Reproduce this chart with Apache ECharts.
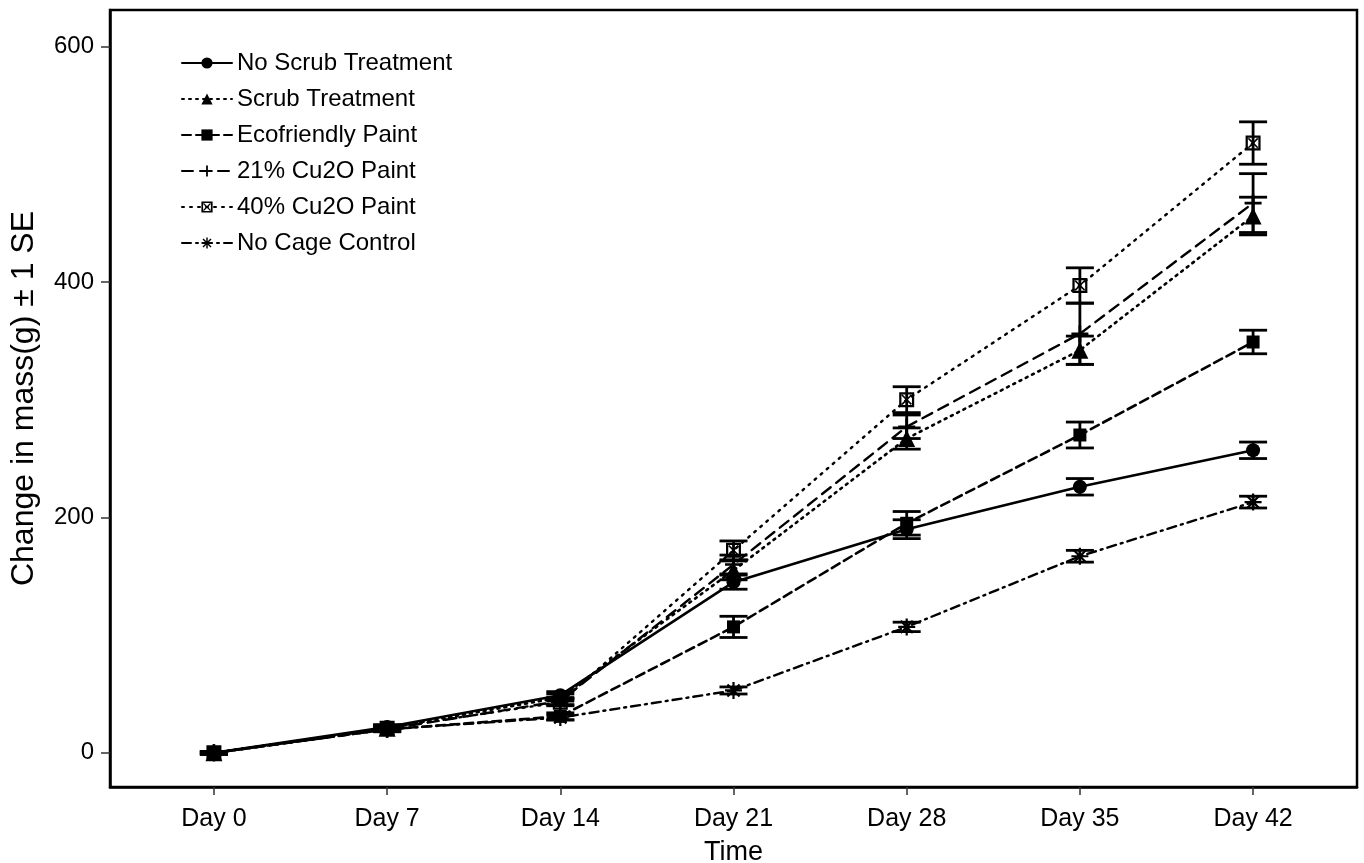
<!DOCTYPE html>
<html>
<head>
<meta charset="utf-8">
<script src="https://cdn.jsdelivr.net/npm/echarts@6/dist/echarts.min.js"></script>
<style>
html,body{margin:0;padding:0;background:#fff;}
#c{width:1364px;height:863px;}
</style>
</head>
<body>
<div id="c"></div>
<script>
const categories = ['Day 0', 'Day 7', 'Day 14', 'Day 21', 'Day 28', 'Day 35', 'Day 42'];
const yTicks = [0, 200, 400, 600];

const seriesNames = ['No Scrub Treatment', 'Scrub Treatment', 'Ecofriendly Paint', '21% Cu2O Paint', '40% Cu2O Paint', 'No Cage Control'];

const noScrub     = [0, 22, 49, 145, 190, 226, 257];
const noScrubSE   = [1, 2, 3, 6, 8, 7, 7];
const scrub       = [0, 21, 47, 155, 267, 342, 456];
const scrubSE     = [1, 2, 3, 8, 9, 12, 16];
const ecoPaint    = [0, 20, 31, 107, 195, 270, 349];
const ecoPaintSE  = [1, 2, 3, 9, 10, 11, 10];
const cu21        = [0, 20, 44, 160, 277, 356, 467];
const cu21SE      = [1, 2, 3, 8, 10, 26, 25];
const cu40        = [0, 21, 43, 172, 300, 397, 518];
const cu40SE      = [1, 2, 3, 8, 11, 15, 18];
const noCage      = [0, 20, 30, 53, 107, 167, 213];
const noCageSE    = [1, 2, 2, 3, 4, 5, 5];

const means = [noScrub, scrub, ecoPaint, cu21, cu40, noCage];
const ses = [noScrubSE, scrubSE, ecoPaintSE, cu21SE, cu40SE, noCageSE];

const FONT = '"Liberation Sans", Arial, Helvetica, sans-serif';

const boxX = 'path://M0,0 L20,0 L20,20 L0,20 Z M3,3 L3,17 L17,17 L17,3 Z M3,4.5 L4.5,3 L17,15.5 L15.5,17 Z M17,4.5 L4.5,17 L3,15.5 L15.5,3 Z';
const asterisk = 'path://M0,8.7 L20,8.7 L20,11.3 L0,11.3 Z M8.7,0 L11.3,0 L11.3,20 L8.7,20 Z M2,3.8 L3.8,2 L18,16.2 L16.2,18 Z M16.2,2 L18,3.8 L3.8,18 L2,16.2 Z';
const plus = 'path://M8.4,0 L11.6,0 L11.6,20 L8.4,20 Z M0,8.4 L20,8.4 L20,11.6 L0,11.6 Z';

const styles = [
  {symbol: 'circle', size: 14, type: 'solid', width: 2.6},
  {symbol: 'triangle', size: 17, type: [2, 5], width: 2.6},
  {symbol: 'rect', size: 13, type: [9, 5], width: 2.6},
  {symbol: plus, size: 17, type: [11, 7], width: 2.4},
  {symbol: boxX, size: 15, type: [2, 6], width: 2.4},
  {symbol: asterisk, size: 17, type: [9, 5, 2, 5], width: 2.4}
];

const series = [];
seriesNames.forEach((name, k) => {
  const st = styles[k];
  series.push({
    name: name,
    type: 'line',
    data: means[k].map((v, i) => [i, v]),
    symbol: st.symbol,
    symbolSize: st.size,
    showAllSymbol: true,
    lineStyle: {color: '#000', width: st.width, type: st.type, cap: 'round'},
    itemStyle: {color: '#000'},
    emphasis: {disabled: true},
    animation: false,
    z: 3
  });
  series.push({
    name: name + ' SE',
    type: 'custom',
    data: means[k].map((v, i) => [i, v - ses[k][i], v + ses[k][i]]),
    renderItem: function (params, api) {
      const lo = api.coord([api.value(0), api.value(1)]);
      const hi = api.coord([api.value(0), api.value(2)]);
      const hw = 14;
      const style = {stroke: '#000', lineWidth: 2.8};
      return {
        type: 'group',
        children: [
          {type: 'line', shape: {x1: lo[0], y1: lo[1], x2: hi[0], y2: hi[1]}, style: style},
          {type: 'line', shape: {x1: lo[0] - hw, y1: lo[1], x2: lo[0] + hw, y2: lo[1]}, style: style},
          {type: 'line', shape: {x1: hi[0] - hw, y1: hi[1], x2: hi[0] + hw, y2: hi[1]}, style: style}
        ]
      };
    },
    encode: {x: 0, y: [1, 2]},
    animation: false,
    silent: true,
    z: 4
  });
});

const chart = echarts.init(document.getElementById('c'), null, {renderer: 'canvas'});
chart.setOption({
  backgroundColor: '#fff',
  animation: false,
  textStyle: {fontFamily: FONT},
  grid: {left: 110, right: 7, top: 10, bottom: 76, outerBoundsMode: 'none', containLabel: false, show: true, borderColor: '#000', borderWidth: 2.5, backgroundColor: 'transparent'},
  legend: {
    data: seriesNames,
    orient: 'vertical',
    left: 176,
    top: 46,
    itemWidth: 50,
    itemHeight: 14,
    itemGap: 12,
    selectedMode: false,
    textStyle: {fontFamily: FONT, fontSize: 24, color: '#000'}
  },
  xAxis: {
    type: 'value',
    min: -0.6,
    max: 6.6,
    interval: 0.2,
    name: 'Time',
    nameLocation: 'middle',
    nameGap: 52,
    nameTextStyle: {fontFamily: FONT, fontSize: 27, color: '#000'},
    axisLine: {show: true, onZero: false, lineStyle: {color: '#000', width: 2.5}},
    axisTick: {show: true, customValues: [0, 1, 2, 3, 4, 5, 6], length: 8, lineStyle: {color: '#333', width: 1.5}},
    axisLabel: {
      customValues: [0, 1, 2, 3, 4, 5, 6],
      formatter: v => categories[Math.round(v)] || '',
      fontFamily: FONT, fontSize: 25, color: '#000', margin: 20
    },
    splitLine: {show: false}
  },
  yAxis: {
    type: 'value',
    min: -29,
    max: 631,
    name: 'Change in mass(g) ± 1 SE',
    nameLocation: 'middle',
    nameGap: 70,
    nameRotate: 90,
    nameTextStyle: {fontFamily: FONT, fontSize: 32, color: '#000'},
    axisLine: {show: true, onZero: false, lineStyle: {color: '#000', width: 2.5}},
    axisTick: {show: true, customValues: yTicks, length: 9, lineStyle: {color: '#333', width: 1.5}},
    axisLabel: {customValues: yTicks, fontFamily: FONT, fontSize: 24, color: '#000', margin: 16},
    splitLine: {show: false}
  },
  series: series
});
</script>
</body>
</html>
